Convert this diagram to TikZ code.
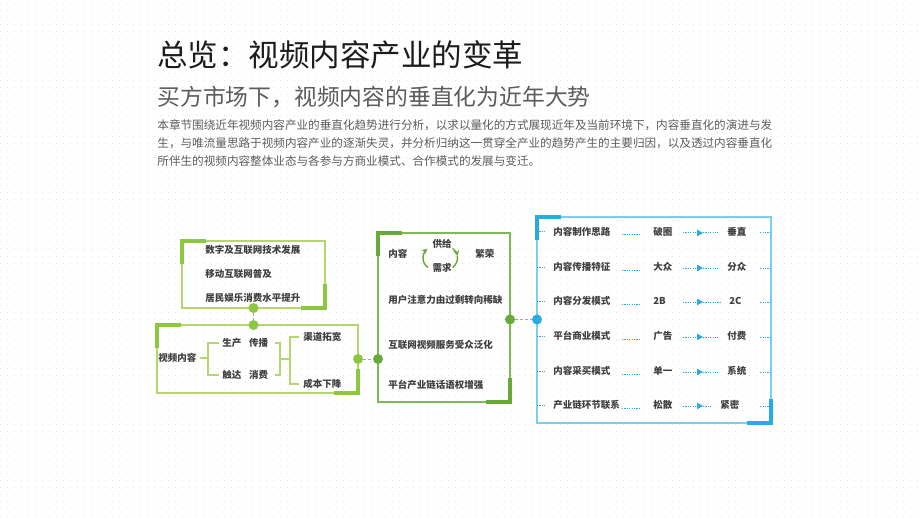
\documentclass[tikz,border=0pt]{standalone}
\usepackage{fontspec}
\setmainfont{Noto Sans CJK SC}
\usepackage{tikz}
\usetikzlibrary{arrows.meta, positioning, calc}
\definecolor{cLime}{RGB}{181,214,110}
\definecolor{cLimeDark}{RGB}{141,198,63}
\definecolor{cGreen}{RGB}{128,184,88}
\definecolor{cGreenDark}{RGB}{104,170,58}
\definecolor{cSky}{RGB}{125,206,236}
\definecolor{cBlue}{RGB}{38,172,226}
\definecolor{cText}{RGB}{62,62,62}
\definecolor{cTitle}{RGB}{28,28,28}
\definecolor{cSub}{RGB}{92,92,92}
\tikzset{
	frame/.style    ={rectangle, anchor=north west, inner sep=0pt, outer sep=0pt, line width=0.75pt},
	accent/.style   ={line width=2pt},
	lbl/.style      ={inner sep=0pt, anchor=west, text=cText, font=\bfseries\fontsize{4.75pt}{5.5pt}\selectfont},
	dotG/.style     ={circle, inner sep=0pt, minimum size=5pt},
	link/.style     ={draw=black!35, line width=0.5pt, dash pattern=on 1.5pt off 1pt},
	brk/.style      ={draw=cLime, line width=0.6pt},
	bdot/.style     ={draw=cBlue, line width=0.5pt, dash pattern=on 0.6pt off 0.6pt},
	cycarrow/.style ={draw=cGreenDark, line width=0.7pt},
	gridrow/.style  ={draw=black!10, line width=0.5pt, dash pattern=on 0.5pt off 3pt},
}
% thick marks on two corners of a frame
\newcommand{\cornermarks}[2]{%
	\draw[accent, draw=#2] ([xshift=12pt]#1.north west) -- (#1.north west) -- ([yshift=-11.5pt]#1.north west);
	\draw[accent, draw=#2] ([xshift=-12pt]#1.south east) -- (#1.south east) -- ([yshift=12pt]#1.south east);}

\begin{document}
\begin{tikzpicture}[x=0.5pt, y=-0.5pt]
	\fill[white] (0,0) rectangle (920,518);
	\useasboundingbox (0,0) rectangle (920,518);
	% dotted paper
	\foreach \gy in {4,11,...,515}
		\draw[gridrow] (0,\gy) -- (920,\gy);

	% heading
	\node[inner sep=0pt, anchor=west, text=cTitle, font=\fontsize{15.25pt}{17pt}\selectfont] (title) at (157,55) {总览：视频内容产业的变革};
	\node[inner sep=0pt, anchor=west, text=cSub, font=\fontsize{11.4pt}{13pt}\selectfont] (subtitle) at (157,97) {买方市场下，视频内容的垂直化为近年大势};
	\node[inner sep=0pt, anchor=north west, align=left, text=cSub, font=\fontsize{5.8pt}{9pt}\selectfont] (intro) at (157,119)
		{本章节围绕近年视频内容产业的垂直化趋势进行分析，以求以量化的方式展现近年及当前环境下，内容垂直化的演进与发\\
		 生，与唯流量思路于视频内容产业的逐渐失灵，并分析归纳这一贯穿全产业的趋势产生的主要归因，以及透过内容垂直化\\
		 所伴生的视频内容整体业态与各参与方商业模式、合作模式的发展与变迁。};

	% frames
	\node[frame, draw=cLime, minimum width=71.5pt, minimum height=33.5pt] (A) at (182,241) {};
	\node[frame, draw=cLime, minimum width=100.5pt, minimum height=34pt] (B) at (157,325) {};
	\node[frame, draw=cGreen, minimum width=66pt, minimum height=84.5pt] (C) at (378,233) {};
	\node[frame, draw=cSky, minimum width=117pt, minimum height=103pt] (D) at (537,217) {};
	\cornermarks{A}{cLimeDark}
	\cornermarks{B}{cLimeDark}
	\cornermarks{C}{cGreenDark}
	\cornermarks{D}{cBlue}

	% drivers
	\node[lbl] (drv1) at (205,250) {数字及互联网技术发展};
	\node[lbl] (drv2) at (205,274) {移动互联网普及};
	\node[lbl] (drv3) at (205,298) {居民娱乐消费水平提升};

	% video content chain
	\node[lbl] (vc) at (158,358) {视频内容};
	\node[lbl] (sc) at (222,343) {生产\hspace{0.8em}传播};
	\node[lbl] (cd) at (222,375) {触达\hspace{0.8em}消费};
	\node[lbl] (qd) at (303,337) {渠道拓宽};
	\node[lbl] (cb) at (303,384) {成本下降};
	\coordinate (brL) at (208,358);
	\coordinate (brM) at (280,359);
	\coordinate (brR) at (290,359);
	\draw[brk] ([xshift=1.5pt]vc.east) -- (brL);
	\draw[brk] ([xshift=-1.5pt]sc.west) -| (brL) |- ([xshift=-1.5pt]cd.west);
	\draw[brk] ([xshift=3.5pt]sc.east) -| (brM) |- ([xshift=3.5pt]cd.east);
	\draw[brk] (brM) -- (brR);
	\draw[brk] ([xshift=-2pt]qd.west) -| (brR) |- ([xshift=-2pt]cb.west);

	% market shift
	\node[lbl] (nr) at (388,254) {内容};
	\node[lbl, anchor=center] (gj) at (442,244) {供给};
	\node[lbl, anchor=center] (xq) at (442,268) {需求};
	\node[lbl] (fr) at (475,254) {繁荣};
	\coordinate (cycL) at (434.5,258);
	\coordinate (cycR) at (446,258);
	\draw[cycarrow, -{Stealth[length=2.8pt,width=3pt]}] ([shift={(235:5.75pt)}]cycL) arc[start angle=235, end angle=128, radius=5.75pt];
	\draw[cycarrow, -{Stealth[length=2.8pt,width=3pt]}] ([shift={(55:5.75pt)}]cycR) arc[start angle=55, end angle=10, radius=5.75pt];
	\draw[cycarrow] ([shift={(10:5.75pt)}]cycR) arc[start angle=10, end angle=-55, radius=5.75pt];
	\node[lbl] (att) at (388,300) {用户注意力由过剩转向稀缺};
	\node[lbl] (aud) at (388,345) {互联网视频服务受众泛化};
	\node[lbl] (pla) at (388,385) {平台产业链话语权增强};

	% shifts of the industry
	\foreach \r/\ry/\lab/\fa/\fb/\bx in {1/232/内容制作思路/破圈/垂直/727, 2/267/内容传播特征/大众/分众/727,
			3/301/内容分发模式/2B/2C/729, 4/336/平台商业模式/广告/付费/727,
			5/371/内容采买模式/单一/系统/727, 6/405/产业链环节联系/松散/紧密/720}{
		\node[lbl] (lab\r) at (553,\ry) {\lab};
		\node[lbl] (fa\r) at (653,\ry) {\fa};
		\node[lbl] (fb\r) at (\bx,\ry) {\fb};
		\draw[bdot] (lab\r.west -| D.west) -- ([xshift=-3.5pt]lab\r.west);
		\draw[bdot] ([xshift=-15.5pt,yshift=-1.5pt]fa\r.west) -- ([xshift=-6.5pt,yshift=-1.5pt]fa\r.west);
		\draw[bdot, -{Triangle[length=3pt,width=3.2pt]}] ([xshift=15pt,yshift=-0.5pt]fa\r.west) -- ([xshift=25pt,yshift=-0.5pt]fa\r.west);
		\draw[bdot] ([xshift=25pt,yshift=-0.5pt]fa\r.west) -- ([xshift=-4.5pt,yshift=-0.5pt]fb\r.west);
		\draw[bdot] ([yshift=-0.5pt]fb\r.east -| D.east) -- ++(-6pt,0);
	}

	% joints
	\node[dotG, fill=cLimeDark] (dA) at (A.south) {};
	\node[dotG, fill=cLimeDark] (dB) at (B.north -| dA) {};
	\node[dotG, fill=cLimeDark] (dB2) at (B.east) {};
	\node[dotG, fill=cGreenDark] (dC1) at (C.west |- dB2) {};
	\node[dotG, fill=cGreenDark] (dC2) at ([yshift=-1pt]C.east) {};
	\node[dotG, fill=cBlue] (dD) at (D.west |- dC2) {};
	\draw[link] (dA) -- (dB);
	\draw[link] (dB2) -- (dC1);
	\draw[link] (dC2) -- (dD);
\end{tikzpicture}
\end{document}
